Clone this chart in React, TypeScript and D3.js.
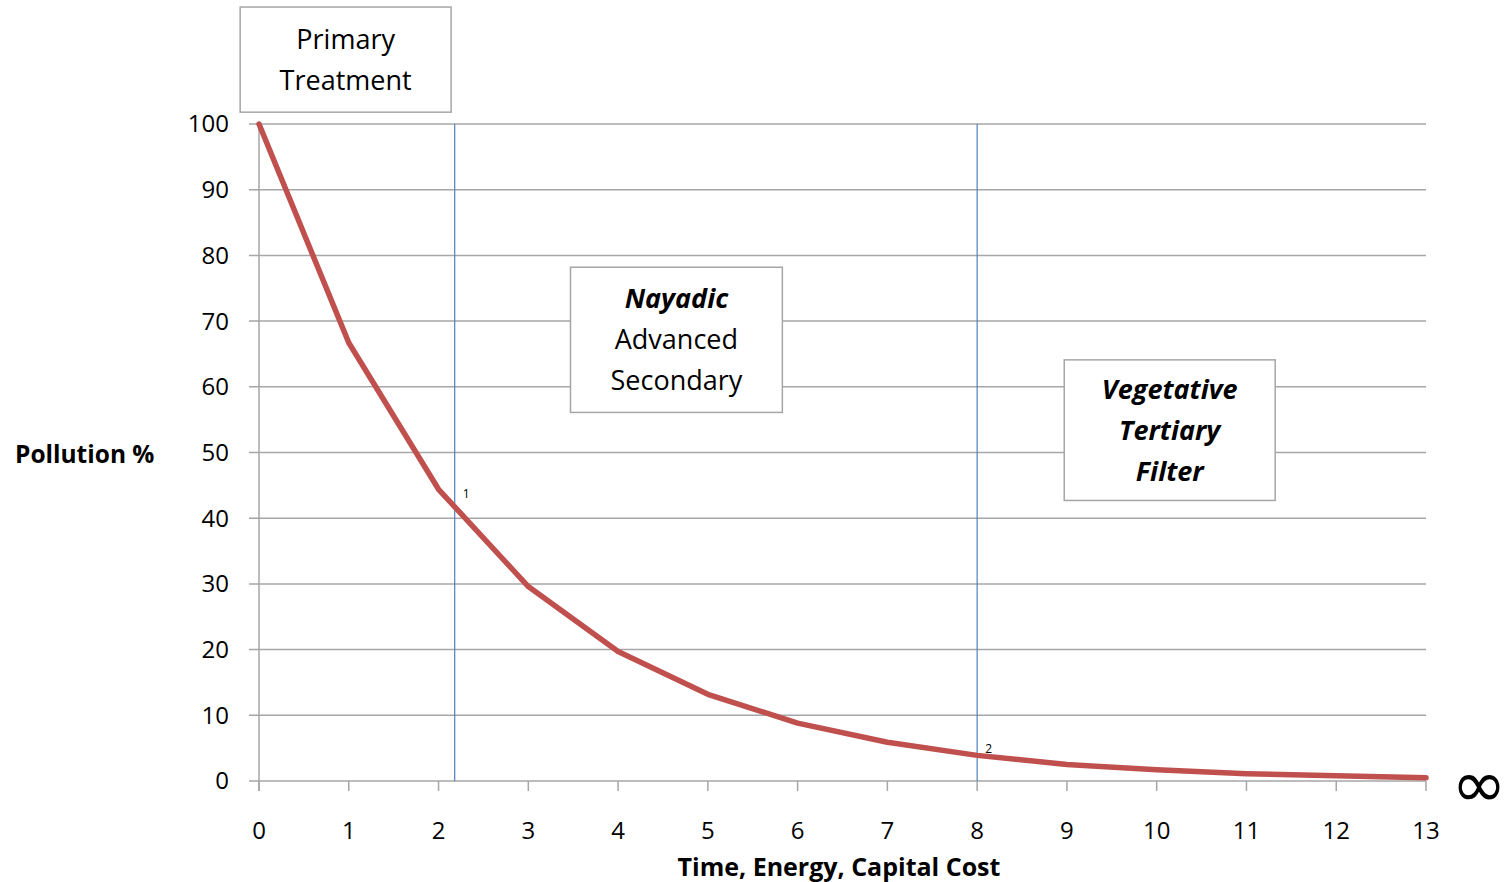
import { useEffect, useRef } from 'react';
import * as d3 from 'd3';

// values
const xValues = [0, 1, 2, 3, 4, 5, 6, 7, 8, 9, 10, 11, 12, 13];
const pollution = [100, 66.7, 44.4, 29.6, 19.7, 13.2, 8.8, 5.9, 3.9, 2.5, 1.7, 1.1, 0.8, 0.5];
const yTicks = [0, 10, 20, 30, 40, 50, 60, 70, 80, 90, 100];
const markerX = [2.18, 8.0];
const markerLabels = ['1', '2'];
const markerLabelY = [43, 4.3];

interface Box {
  x0: number;
  x1: number;
  y0: number;
  y1: number;
  lines: { text: string; bold: boolean; italic: boolean }[];
}

// boxes are positioned in data units
const boxes: Box[] = [
  {
    x0: -0.21, x1: 2.14, y0: 101.8, y1: 117.8,
    lines: [
      { text: 'Primary', bold: false, italic: false },
      { text: 'Treatment', bold: false, italic: false }
    ]
  },
  {
    x0: 3.47, x1: 5.83, y0: 56.1, y1: 78.2,
    lines: [
      { text: 'Nayadic', bold: true, italic: true },
      { text: 'Advanced', bold: false, italic: false },
      { text: 'Secondary', bold: false, italic: false }
    ]
  },
  {
    x0: 8.97, x1: 11.32, y0: 42.7, y1: 64.1,
    lines: [
      { text: 'Vegetative', bold: true, italic: true },
      { text: 'Tertiary', bold: true, italic: true },
      { text: 'Filter', bold: true, italic: true }
    ]
  }
];

const FONT = '"Open Sans", Lato, sans-serif';

const App = (): JSX.Element => {
  const svgRef = useRef<SVGSVGElement>(null);

  useEffect(() => {
    if (svgRef.current) {
      svgRef.current.innerHTML = '';
    }
    const width = 1507;
    const height = 882;
    const marginLeft = 259;
    const marginRight = 81;
    const marginTop = 124;
    const marginBottom = 101;

    const x = d3.scaleLinear([0, 13], [marginLeft, width - marginRight]);
    const y = d3.scaleLinear([0, 100], [height - marginBottom, marginTop]);

    const svg = d3
      .select(svgRef.current)
      .attr('width', width)
      .attr('height', height)
      .attr('viewBox', [0, 0, width, height])
      .style('font-family', FONT);

    svg.append('rect').attr('width', width).attr('height', height).attr('fill', '#fff');

    // horizontal gridlines + y ticks
    svg
      .append('g')
      .selectAll('line')
      .data(yTicks)
      .join('line')
      .attr('x1', marginLeft - 10)
      .attr('x2', x(13))
      .attr('y1', (d) => y(d))
      .attr('y2', (d) => y(d))
      .attr('stroke', '#a6a6a6')
      .attr('stroke-width', 1.5);

    svg
      .append('g')
      .selectAll('text')
      .data(yTicks)
      .join('text')
      .attr('x', 229)
      .attr('y', (d) => y(d))
      .attr('dy', '0.35em')
      .attr('text-anchor', 'end')
      .attr('font-size', 24)
      .attr('fill', '#000')
      .text((d) => d);

    // y axis line
    svg
      .append('line')
      .attr('x1', x(0))
      .attr('x2', x(0))
      .attr('y1', y(100))
      .attr('y2', y(0) + 10)
      .attr('stroke', '#a6a6a6')
      .attr('stroke-width', 1.5);

    // x ticks
    svg
      .append('g')
      .selectAll('line')
      .data(xValues)
      .join('line')
      .attr('x1', (d) => x(d))
      .attr('x2', (d) => x(d))
      .attr('y1', y(0))
      .attr('y2', y(0) + 10)
      .attr('stroke', '#a6a6a6')
      .attr('stroke-width', 1.5);

    svg
      .append('g')
      .selectAll('text')
      .data(xValues)
      .join('text')
      .attr('x', (d) => x(d))
      .attr('y', 839)
      .attr('text-anchor', 'middle')
      .attr('font-size', 24)
      .attr('fill', '#000')
      .text((d) => d);

    // vertical marker lines
    svg
      .append('g')
      .selectAll('line')
      .data(markerX)
      .join('line')
      .attr('x1', (d) => x(d))
      .attr('x2', (d) => x(d))
      .attr('y1', y(100))
      .attr('y2', y(0))
      .attr('stroke', '#4f81bd')
      .attr('stroke-width', 1.2);

    svg
      .append('g')
      .selectAll('text')
      .data(markerX)
      .join('text')
      .attr('x', (d) => x(d) + 8)
      .attr('y', (_, i) => y(markerLabelY[i]))
      .attr('font-size', 12)
      .attr('fill', '#000')
      .text((_, i) => markerLabels[i]);

    // the curve
    const line = d3
      .line<number>()
      .x((_, i) => x(xValues[i]))
      .y((d) => y(d));

    svg
      .append('path')
      .attr('fill', 'none')
      .attr('stroke', '#c0504d')
      .attr('stroke-width', 5.5)
      .attr('stroke-linejoin', 'round')
      .attr('stroke-linecap', 'round')
      .attr('d', line(pollution));

    // text boxes
    boxes.forEach((b) => {
      const g = svg.append('g');
      g.append('rect')
        .attr('x', x(b.x0))
        .attr('y', y(b.y1))
        .attr('width', x(b.x1) - x(b.x0))
        .attr('height', y(b.y0) - y(b.y1))
        .attr('fill', '#fff')
        .attr('stroke', '#a6a6a6')
        .attr('stroke-width', 1.5);
      const cx = (x(b.x0) + x(b.x1)) / 2;
      const cy = (y(b.y0) + y(b.y1)) / 2;
      const lh = 41;
      const n = b.lines.length;
      b.lines.forEach((l, i) => {
        g.append('text')
          .attr('x', cx)
          .attr('y', cy + (i - (n - 1) / 2) * lh)
          .attr('dy', '0.35em')
          .attr('text-anchor', 'middle')
          .attr('font-size', 27)
          .attr('font-weight', l.bold ? 'bold' : 'normal')
          .attr('font-style', l.italic ? 'italic' : 'normal')
          .attr('fill', '#000')
          .text(l.text);
      });
    });

    // axis titles
    svg
      .append('text')
      .attr('x', 15)
      .attr('y', 454)
      .attr('dy', '0.35em')
      .attr('font-size', 24.5)
      .attr('font-weight', 'bold')
      .attr('fill', '#000')
      .text('Pollution %');

    svg
      .append('text')
      .attr('x', 839)
      .attr('y', 876)
      .attr('text-anchor', 'middle')
      .attr('font-size', 25)
      .attr('font-weight', 'bold')
      .attr('fill', '#000')
      .text('Time, Energy, Capital Cost');

    // infinity sign past the last tick
    svg
      .append('text')
      .attr('x', 1479)
      .attr('y', 784)
      .attr('dy', '0.35em')
      .attr('text-anchor', 'middle')
      .attr('font-size', 66)
      .attr('font-family', '"DejaVu Sans", sans-serif')
      .attr('fill', '#000')
      .text('\u221e');
  }, []);

  return (
    <div style={{ position: 'absolute', left: 0, top: 0 }}>
      <svg ref={svgRef} style={{ display: 'block' }} />
    </div>
  );
};

export default App;
